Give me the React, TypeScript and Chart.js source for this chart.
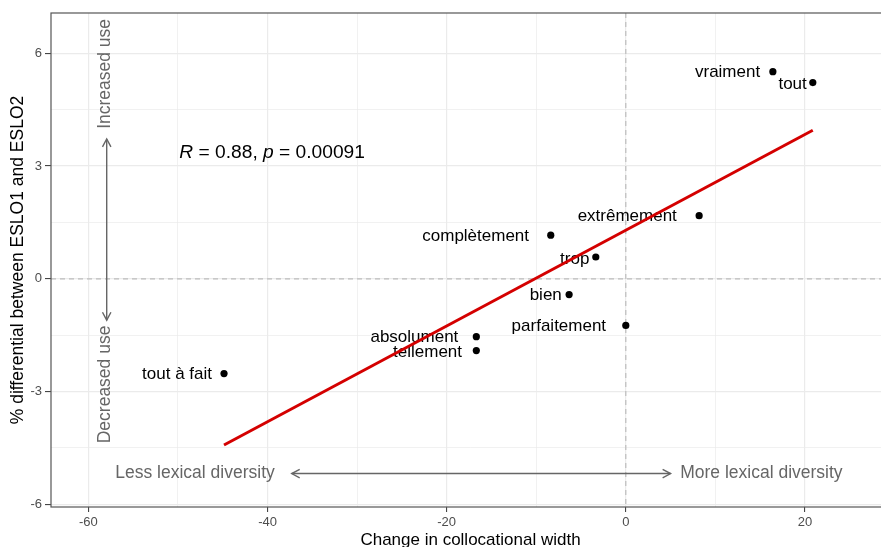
import React, { useEffect, useRef } from 'react';
import { Chart, registerables } from 'chart.js';
Chart.register(...registerables);

// ---- data ----
const words = ['vraiment', 'tout', 'extrêmement', 'complètement', 'trop', 'bien', 'parfaitement', 'absolument', 'tellement', 'tout à fait'];
const widthChange = [16.42, 20.88, 8.19, -8.38, -3.35, -6.33, 0, -16.69, -16.69, -44.86];
const useDiff = [5.51, 5.22, 1.68, 1.16, 0.58, -0.42, -1.24, -1.54, -1.91, -2.52];
const fitX = [-44.86, 20.88];
const fitY = [-4.42, 3.95];
const xMajorTicks = [-60, -40, -20, 0, 20];
const xMinorTicks = [-50, -30, -10, 10];
const yMajorTicks = [-6, -3, 0, 3, 6];
const yMinorTicks = [-4.5, -1.5, 1.5, 4.5];
const statR = '0.88';
const statP = '0.00091';

// ---- annotation placement (data units) ----
const statPos = { x: -49.85, y: 3.35 };
const vArrow = { x: -57.96, y1: 3.72, y2: -1.1 };
const vTextX = -58.15;
const increasedY = 5.45;
const decreasedY = -2.81;
const hArrow = { y: -5.18, x1: -37.3, x2: 5.0 };
const lessX = -48.1;
const moreX = 15.14;
// label nudges in pixels (right end of text relative to point)
const labelNudge = [[-12.7, 0.3], [-6, 1.3], [-22.3, 0.7], [-21.7, 1.6], [-6.4, 2], [-7.3, 1], [-19.7, 1], [-18, 1], [-14.3, 1.3], [-12, 1]];

const FONT = "'Liberation Sans', Arial, sans-serif";
const GREY = '#666666';

function arrowHead(ctx: CanvasRenderingContext2D, tx: number, ty: number, fx: number, fy: number) {
  const ang = Math.atan2(ty - fy, tx - fx);
  const len = 9;
  const a = (28 * Math.PI) / 180;
  ctx.beginPath();
  ctx.moveTo(tx - len * Math.cos(ang - a), ty - len * Math.sin(ang - a));
  ctx.lineTo(tx, ty);
  ctx.lineTo(tx - len * Math.cos(ang + a), ty - len * Math.sin(ang + a));
  ctx.stroke();
}

const annotPlugin = {
  id: 'annot',
  beforeDatasetsDraw(chart: any) {
    const { ctx, chartArea, scales } = chart;
    const x = scales.x, y = scales.y;
    ctx.save();
    ctx.beginPath();
    ctx.rect(chartArea.left, chartArea.top, chartArea.right - chartArea.left, chartArea.bottom - chartArea.top);
    ctx.clip();
    // dashed zero lines
    ctx.setLineDash([5, 4]);
    ctx.strokeStyle = '#bdbdbd';
    ctx.lineWidth = 1.2;
    const x0 = x.getPixelForValue(0);
    const y0 = y.getPixelForValue(0);
    ctx.beginPath();
    ctx.moveTo(x0, chartArea.top);
    ctx.lineTo(x0, chartArea.bottom);
    ctx.moveTo(chartArea.left, y0);
    ctx.lineTo(chartArea.right, y0);
    ctx.stroke();
    ctx.setLineDash([]);

    // arrows
    ctx.strokeStyle = GREY;
    ctx.lineWidth = 1.4;
    const vx = x.getPixelForValue(vArrow.x);
    const vy1 = y.getPixelForValue(vArrow.y1);
    const vy2 = y.getPixelForValue(vArrow.y2);
    ctx.beginPath();
    ctx.moveTo(vx, vy1);
    ctx.lineTo(vx, vy2);
    ctx.stroke();
    arrowHead(ctx, vx, vy1, vx, vy2);
    arrowHead(ctx, vx, vy2, vx, vy1);
    const hy = y.getPixelForValue(hArrow.y);
    const hx1 = x.getPixelForValue(hArrow.x1);
    const hx2 = x.getPixelForValue(hArrow.x2);
    ctx.beginPath();
    ctx.moveTo(hx1, hy);
    ctx.lineTo(hx2, hy);
    ctx.stroke();
    arrowHead(ctx, hx1, hy, hx2, hy);
    arrowHead(ctx, hx2, hy, hx1, hy);

    // grey annotation texts
    ctx.fillStyle = GREY;
    ctx.font = `17.5px ${FONT}`;
    ctx.textAlign = 'center';
    ctx.textBaseline = 'middle';
    ctx.fillText('Less lexical diversity', x.getPixelForValue(lessX), hy);
    ctx.fillText('More lexical diversity', x.getPixelForValue(moreX), hy);
    const tx = x.getPixelForValue(vTextX);
    ctx.save();
    ctx.translate(tx, y.getPixelForValue(increasedY));
    ctx.rotate(-Math.PI / 2);
    ctx.fillText('Increased use', 0, 0);
    ctx.restore();
    ctx.save();
    ctx.translate(tx, y.getPixelForValue(decreasedY));
    ctx.rotate(-Math.PI / 2);
    ctx.fillText('Decreased use', 0, 0);
    ctx.restore();

    // stat text
    ctx.fillStyle = '#000';
    ctx.textAlign = 'left';
    let sx = x.getPixelForValue(statPos.x);
    const sy = y.getPixelForValue(statPos.y);
    const parts: [string, boolean][] = [['R', true], [' = ' + statR + ', ', false], ['p', true], [' = ' + statP, false]];
    for (const [t, it] of parts) {
      ctx.font = `${it ? 'italic ' : ''}19.2px ${FONT}`;
      ctx.fillText(t, sx, sy);
      sx += ctx.measureText(t).width;
    }
    ctx.restore();
  },
  afterDatasetDraw(chart: any, args: any) {
    if (args.index !== 0) return;
    const { ctx, scales } = chart;
    ctx.save();
    ctx.font = `17px ${FONT}`;
    ctx.fillStyle = '#000';
    ctx.textAlign = 'right';
    ctx.textBaseline = 'middle';
    words.forEach((w, i) => {
      const px = scales.x.getPixelForValue(widthChange[i]) + labelNudge[i][0];
      const py = scales.y.getPixelForValue(useDiff[i]) + labelNudge[i][1];
      ctx.fillText(w, px, py);
    });
    ctx.restore();
  },
  afterDraw(chart: any) {
    const { ctx, chartArea } = chart;
    ctx.save();
    ctx.strokeStyle = '#555';
    ctx.lineWidth = 1.2;
    ctx.strokeRect(chartArea.left, chartArea.top, chartArea.right - chartArea.left + 20, chartArea.bottom - chartArea.top);
    ctx.restore();
  },
};

export default function App() {
  const ref = useRef<HTMLCanvasElement>(null);
  useEffect(() => {
    if (!ref.current) return;
    const isMajorX = (v: number) => xMajorTicks.includes(v);
    const isMajorY = (v: number) => yMajorTicks.includes(v);
    const chart = new Chart(ref.current, {
      type: 'scatter',
      data: {
        datasets: [
          {
            label: 'words',
            data: widthChange.map((v, i) => ({ x: v, y: useDiff[i] })),
            backgroundColor: '#000',
            borderWidth: 0,
            pointRadius: 3.6,
            order: 1,
          },
          {
            label: 'fit',
            data: fitX.map((v, i) => ({ x: v, y: fitY[i] })),
            showLine: true,
            borderColor: '#d40000',
            borderWidth: 3,
            pointRadius: 0,
            order: 0,
          } as any,
        ],
      },
      options: {
        animation: false,
        responsive: false,
        devicePixelRatio: 1,
        layout: { autoPadding: false, padding: { top: 13, left: 0, right: 0, bottom: 0 } },
        plugins: { legend: { display: false }, tooltip: { enabled: false } },
        scales: {
          x: {
            type: 'linear',
            min: -64.18,
            max: 29.5,
            afterBuildTicks: (s: any) => {
              s.ticks = [...xMajorTicks, ...xMinorTicks].sort((a, b) => a - b).map((v) => ({ value: v }));
            },
            afterFit: (s: any) => {
              s.height = 40;
              s.paddingLeft = 0;
              s.paddingRight = 0;
            },
            border: { display: false },
            grid: {
              color: '#ebebeb',
              lineWidth: (c: any) => (c.tick && isMajorX(c.tick.value) ? 1.2 : 0.7),
              tickColor: (c: any) => (c.tick && isMajorX(c.tick.value) ? '#333' : 'rgba(0,0,0,0)'),
              tickLength: 5,
              tickWidth: 1,
            },
            ticks: {
              autoSkip: false,
              maxRotation: 0,
              padding: 3,
              color: '#4d4d4d',
              font: { family: FONT, size: 13 },
              callback: (v: any) => (isMajorX(Number(v)) ? String(v) : ''),
            },
            title: {
              display: true,
              text: 'Change in collocational width',
              color: '#000',
              font: { family: FONT, size: 17, lineHeight: 0.82 },
              padding: { top: 0, bottom: 0 },
            },
          },
          y: {
            type: 'linear',
            min: -6.07,
            max: 7.07,
            afterBuildTicks: (s: any) => {
              s.ticks = [...yMajorTicks, ...yMinorTicks].sort((a, b) => a - b).map((v) => ({ value: v }));
            },
            afterFit: (s: any) => {
              s.width = 51;
              s.paddingTop = 0;
              s.paddingBottom = 0;
            },
            border: { display: false },
            grid: {
              color: '#ebebeb',
              lineWidth: (c: any) => (c.tick && isMajorY(c.tick.value) ? 1.2 : 0.7),
              tickColor: (c: any) => (c.tick && isMajorY(c.tick.value) ? '#333' : 'rgba(0,0,0,0)'),
              tickLength: 6,
              tickWidth: 1,
            },
            ticks: {
              autoSkip: false,
              padding: 3,
              color: '#4d4d4d',
              font: { family: FONT, size: 13 },
              callback: (v: any) => (isMajorY(Number(v)) ? String(v) : ''),
            },
            title: {
              display: true,
              text: '% differential between ESLO1 and ESLO2',
              color: '#000',
              font: { family: FONT, size: 17.5 },
              padding: { top: 8, bottom: 0 },
            },
          },
        },
      },
      plugins: [annotPlugin],
    });
    return () => chart.destroy();
  }, []);
  return (
    <div style={{ position: 'fixed', left: 0, top: 0, width: 881, height: 547, overflow: 'hidden', background: '#fff' }}>
      <canvas ref={ref} width={890} height={547} style={{ display: 'block', width: 890, height: 547 }} />
    </div>
  );
}
